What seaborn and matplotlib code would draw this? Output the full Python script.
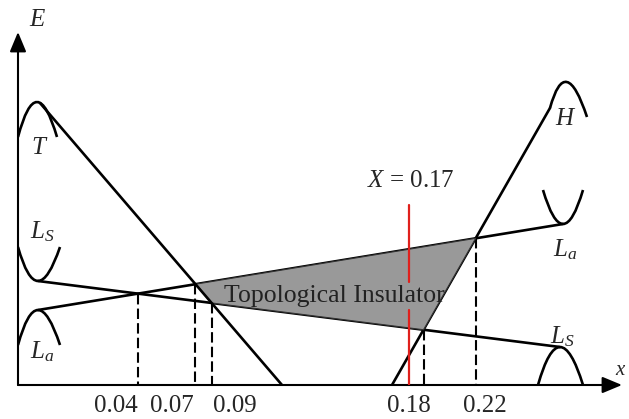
import numpy as np
import pandas as pd
import matplotlib
matplotlib.use("Agg")
import matplotlib.pyplot as plt
from matplotlib.path import Path
from matplotlib.patches import PathPatch
import seaborn as sns

# ---------------- data (schematic units: x along composition, y = energy) ----
# straight band lines, given by their two end points
T_x,  T_y  = [22, 264], [282, 0]
Ls_x, Ls_y = [20, 542], [104, 38]
La_x, La_y = [20, 545], [75, 161]
H_x,  H_y  = [374, 532], [0, 277]

# curved band edges: left end, apex, right end
arc_T   = [(0, 248), (19, 283), (39, 248)]
arc_H   = [(532, 277), (549, 303), (569, 268)]
arc_LsL = [(0, 138), (20, 104), (42, 138)]
arc_LaL = [(0, 40), (20, 75), (42, 40)]
arc_LsR = [(520, 0), (542, 38), (565, 0)]
arc_LaR = [(525, 195), (545, 161), (565, 195)]

# X = 0.17 marker
x_017 = 391
tick_pos = [98, 154, 217, 391, 467]
tick_labels = ["0.04", "0.07", "0.09", "0.18", "0.22"]


def line_coef(xs, ys):
    m = (ys[1] - ys[0]) / (xs[1] - xs[0])
    return m, ys[0] - m * xs[0]


def cross(a, b):
    m1, c1 = line_coef(*a)
    m2, c2 = line_coef(*b)
    x = (c2 - c1) / (m1 - m2)
    return x, m1 * x + c1


T, Ls, La, H = (T_x, T_y), (Ls_x, Ls_y), (La_x, La_y), (H_x, H_y)
p_TLa, p_TLs = cross(T, La), cross(T, Ls)
p_HLs, p_HLa = cross(H, Ls), cross(H, La)
p_LaLs = cross(La, Ls)

# ---------------- figure ----------------
sns.set_style("white")
plt.rcParams["font.family"] = ["Liberation Serif", "DejaVu Serif"]
plt.rcParams["mathtext.fontset"] = "custom"
plt.rcParams["mathtext.rm"] = "Liberation Serif"
plt.rcParams["mathtext.it"] = "Liberation Serif:italic"

fig = plt.figure(figsize=(6.29, 4.19), dpi=100)
ax = fig.add_axes([18 / 629, 34 / 419, 604 / 629, 353 / 419])
ax.set_xlim(0, 604)
ax.set_ylim(0, 353)
for s in ax.spines.values():
    s.set_visible(False)

lines = pd.DataFrame({
    "x": La_x + Ls_x + H_x,
    "y": La_y + Ls_y + H_y,
    "band": ["La"] * 2 + ["Ls"] * 2 + ["H"] * 2,
})
sns.lineplot(data=lines, x="x", y="y", units="band", estimator=None,
             sort=False, color="black", lw=1.9, ax=ax, zorder=2)

# shaded topological insulator region
poly = np.array([p_TLa, p_HLa, p_HLs, p_TLs])
ax.fill(poly[:, 0], poly[:, 1], facecolor="#999999", edgecolor="#333333",
        lw=0.8, zorder=3)

sns.lineplot(x=T_x, y=T_y, color="black", lw=1.9, ax=ax, zorder=4)

# arcs as quadratic Bezier through the apex
for p0, v, p2 in [arc_T, arc_H, arc_LsL, arc_LaL, arc_LsR, arc_LaR]:
    p0, v, p2 = map(np.array, (p0, v, p2))
    c = 2 * v - (p0 + p2) / 2
    path = Path([p0, c, p2], [Path.MOVETO, Path.CURVE3, Path.CURVE3])
    ax.add_patch(PathPatch(path, fill=False, lw=1.9, color="black", zorder=4))

# dashed drop lines
drops = [p_LaLs, p_TLa, p_TLs, p_HLs, p_HLa]
dash = pd.DataFrame({
    "x": [p[0] for p in drops for _ in range(2)],
    "y": [v for p in drops for v in (p[1], 0)],
    "k": [i for i in range(len(drops)) for _ in range(2)],
})
sns.lineplot(data=dash, x="x", y="y", units="k", estimator=None, sort=False,
             color="black", lw=1.5, linestyle=(0, (5, 2)), ax=ax, zorder=2)

# red X = 0.17 line, broken behind the label
ax.plot([x_017, x_017], [0, 75], color="#e0201c", lw=1.6, zorder=5)
ax.plot([x_017, x_017], [103, 180], color="#e0201c", lw=1.6, zorder=5)

# axes with arrows
arw = dict(arrowstyle="-|>,head_length=0.6,head_width=0.25", lw=1.5,
           color="black", mutation_scale=20, shrinkA=0, shrinkB=0)
ax.annotate("", xy=(0, 1), xytext=(0, 0), xycoords="axes fraction",
            arrowprops=arw, annotation_clip=False)
ax.annotate("", xy=(1, 0), xytext=(0, 0), xycoords="axes fraction",
            arrowprops=arw, annotation_clip=False)

ax.set_xticks(tick_pos, tick_labels)
ax.set_yticks([])
ax.tick_params(axis="x", length=0, pad=7, labelsize=18)
ax.set_xlabel("")
ax.set_ylabel("")

fs = 18
kw = dict(ha="center", va="center", fontsize=fs, clip_on=False, zorder=6)
ax.text(20, 365, "$E$", **kw)
ax.text(22, 237, "$T$", **kw)
ax.text(24, 153, "$L_S$", **kw)
ax.text(24, 33, "$L_a$", **kw)
ax.text(548, 266, "$H$", **kw)
ax.text(547, 135, "$L_a$", **kw)
ax.text(544, 48, "$L_S$", **kw)
ax.text(393, 204, "$X$ = 0.17", **kw)
ax.text(316, 89, "Topological Insulator", color="#222222",
        **{**kw, "fontsize": 18.5})
ax.text(597, 15, "$x$", ha="left", va="center", fontsize=15, clip_on=False)

fig.savefig("out.png", dpi=100)
